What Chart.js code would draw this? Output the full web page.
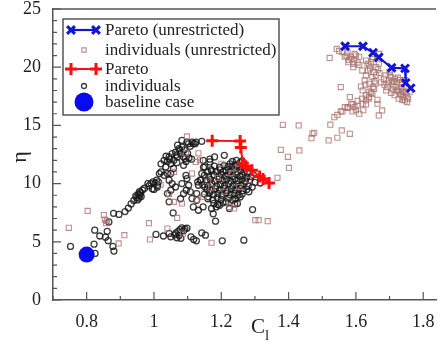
<!DOCTYPE html>
<html>
<head>
<meta charset="utf-8">
<script src="https://cdn.jsdelivr.net/npm/chart.js@4.4.1/dist/chart.umd.min.js"></script>
<style>
  html, body { margin: 0; padding: 0; background: #fff; overflow: hidden; }
  canvas { display: block; }
</style>
</head>
<body>
<canvas id="chart" width="445" height="347"></canvas>
<script>
// Axis ticks
const xTicks = [0.8, 1.0, 1.2, 1.4, 1.6, 1.8];
const xMinorTicks = [0.7, 0.9, 1.1, 1.3, 1.5, 1.7];
const yTicks = [0, 5, 10, 15, 20, 25];
const yMinorTicks = [1, 2, 3, 4, 6, 7, 8, 9, 11, 12, 13, 14, 16, 17, 18, 19, 21, 22, 23, 24];

// Pareto front, unrestricted run (C_l, eta)
const paretoUnrestrictedC = [1.568, 1.621, 1.651, 1.668, 1.706, 1.746, 1.748, 1.763];
const paretoUnrestrictedEta = [21.8, 21.8, 21.25, 20.85, 19.95, 19.9, 18.65, 18.2];

// Pareto front, restricted run
const paretoC = [1.173, 1.256, 1.258, 1.264, 1.273, 1.291, 1.314, 1.324, 1.342];
const paretoEta = [13.68, 13.65, 13.1, 11.75, 11.5, 11.15, 10.6, 10.4, 10.05];

// Baseline case
const baselineC = [0.8];
const baselineEta = [3.9];

// Individuals of the unrestricted run [C_l, eta]
const individualsUnrestricted = [
  [0.747,6.2],[0.803,7.65],[0.851,7.3],[0.854,6.9],[0.858,6.6],[0.912,5.57],[0.895,4.86],[0.985,6.6],
  [0.988,5.2],[1.040,6.14],[1.069,7.05],[1.086,5.7],[1.171,4.92],[0.790,4.1],[0.860,6.8],
  [1.098,14.05],[1.132,12.6],[1.137,12.0],[1.113,10.86],[1.124,11.86],[1.059,8.43],[1.083,8.29],
  [1.127,8.6],[1.146,8.86],[1.224,8.0],[1.238,7.86],[1.253,9.71],[1.282,10.3],[1.190,10.5],[1.210,9.3],
  [1.170,9.6],[1.160,10.2],[1.230,10.9],[1.250,11.3],[1.200,11.7],[1.095,12.6],[1.060,11.0],[1.045,9.1],
  [1.020,9.9],
  [1.301,6.86],[1.311,6.86],[1.338,6.77],[1.367,10.5],[1.377,12.9],[1.398,12.3],[1.401,11.35],
  [1.432,12.85],[1.383,15.05],[1.430,15.0],[1.471,14.3],[1.476,14.37],[1.468,13.9],[1.524,15.06],
  [1.519,13.71],[1.545,13.94],[1.558,14.57],[1.582,14.28],[1.536,15.71],[1.555,16.2],[1.567,16.57],
  [1.576,16.57],[1.586,16.86],[1.596,16.57],[1.605,16.71],[1.620,16.86],[1.630,17.14],[1.639,17.43],
  [1.649,17.71],[1.654,18.14],[1.620,18.0],[1.615,18.34],[1.555,18.29],[1.582,17.43],[1.522,20.8],
  [1.543,21.57],[1.572,21.0],[1.587,20.71],[1.596,21.14],[1.577,20.43],[1.592,20.29],[1.619,19.71],
  [1.626,18.86],[1.630,19.29],[1.636,19.71],[1.640,20.14],[1.645,20.43],[1.650,20.71],[1.630,20.57],
  [1.640,18.57],[1.649,19.14],[1.654,19.57],[1.664,16.86],[1.668,15.86],[1.678,16.29],[1.683,19.0],
  [1.688,19.29],[1.698,18.86],[1.707,18.71],[1.717,19.0],[1.693,18.29],[1.712,18.43],[1.722,18.0],
  [1.732,17.71],[1.741,17.43],[1.727,17.29],[1.746,17.14],[1.722,18.71],[1.736,18.14],[1.702,19.29],
  [1.736,18.57],[1.751,17.57],[1.669,21.14],[1.664,17.2],[1.600,21.0],[1.610,20.9],[1.660,20.0],
  [1.670,19.5],[1.675,18.7],[1.690,18.0],[1.705,17.8],[1.715,17.6],[1.740,17.9],[1.755,17.3],
  [1.760,17.9],[1.700,19.6],[1.725,19.1],[1.745,18.9],[1.560,21.3],[1.600,16.3],[1.610,16.0],
  [1.590,16.2],[1.545,15.9],[1.560,16.2],[1.575,16.5],[1.590,16.8],[1.605,17.1],[1.618,17.3],
  [1.630,17.6],[1.640,17.9],[1.622,16.3],[1.630,16.8],[1.638,17.3],[1.645,17.8],[1.650,18.3],
  [1.655,18.8],[1.660,19.3],[1.665,19.8],[1.668,20.3],[1.550,21.4],[1.575,21.2],[1.585,20.9],
  [1.595,20.6],[1.605,20.4],[1.592,20.0],[1.610,20.2],
  [1.695,18.6],[1.710,18.1],[1.718,18.3],[1.728,17.9],[1.735,17.6],[1.748,17.8],[1.742,18.3],
  [1.705,19.1],[1.713,18.8],[1.730,18.9],[1.685,18.5],[1.752,17.0],[1.738,17.2],[1.733,18.3],
  [1.642,19.9],[1.648,20.9],[1.635,20.3],[1.628,18.5],[1.658,18.6],[1.580,20.6],[1.567,20.9]
];

// Individuals of the restricted run [C_l, eta]
const individuals = [
  [0.752,4.6],[0.824,6.0],[0.839,5.5],[0.822,4.8],[0.825,4.0],[0.856,5.4],[0.861,5.9],[0.866,6.7],
  [0.864,5.1],[0.878,4.6],[0.881,4.2],[0.880,7.45],[0.896,7.35],[0.914,7.6],[0.924,7.9],[0.932,8.25],
  [0.940,8.55],[0.948,8.8],[0.953,9.1],[0.957,9.3],[0.951,8.6],[0.946,8.95],[0.962,8.9],[0.966,9.45],
  [0.972,9.6],[0.985,9.8],[0.991,10.0],[1.004,10.05],[1.013,10.15],[1.000,9.5],[1.010,9.7],[0.995,9.55],
  [1.008,10.3],[0.958,9.0],[0.955,8.75],[0.960,9.2],[0.982,10.0],[0.997,10.14],[1.011,9.86],
  [1.006,5.63],[1.028,5.5],[1.045,5.72],[1.050,5.43],[1.062,5.6],[1.071,5.88],[1.077,6.05],[1.083,6.2],
  [1.092,6.1],[1.098,6.17],[1.075,5.55],[1.068,5.35],[1.080,5.3],[1.110,5.43],[1.118,5.2],[1.126,5.08],
  [1.142,5.76],[1.153,5.57],[1.203,5.08],[1.267,5.14],[1.088,5.95],[1.065,5.75],
  [1.293,7.77],[1.183,6.77],[1.176,7.4],[1.057,7.48],[1.045,8.43],[1.040,9.14],[1.079,8.7],[1.088,9.14],
  [1.096,9.43],[1.103,9.86],[1.108,9.29],[1.113,8.71],[1.127,9.14],[1.132,9.86],[1.137,10.29],
  [1.142,10.86],[1.151,11.43],[1.146,12.0],[1.166,11.86],[1.209,12.43],[1.180,12.29],[1.151,9.71],
  [1.161,8.86],[1.127,8.57],[1.132,7.71],[1.146,8.0],[1.117,8.0],[1.185,8.0],[1.195,8.14],[1.171,7.86],
  [1.214,8.43],[1.234,8.57],[1.248,8.29],[1.224,7.86],[1.098,10.43],[1.054,10.0],[1.050,9.43],
  [1.064,9.71],[1.045,10.29],[1.166,12.1],[1.147,11.4],[1.095,10.7],[1.083,10.0],[1.130,10.14],
  [1.021,11.7],[1.030,12.0],[1.035,11.43],[1.045,12.29],[1.050,11.71],[1.054,12.57],[1.059,12.0],
  [1.064,12.71],[1.069,12.29],[1.074,13.0],[1.079,12.57],[1.083,13.14],[1.088,12.29],[1.093,12.14],
  [1.098,13.57],[1.103,13.43],[1.113,13.57],[1.122,13.43],[1.142,13.63],[1.083,13.71],[1.077,12.86],
  [1.088,11.57],[1.021,11.0],[1.016,10.86],[1.030,10.71],[1.040,10.86],[1.050,10.86],[1.040,11.9],
  [1.058,11.3],[1.068,11.8],[1.095,11.9],[1.100,12.6],[1.104,12.2],[1.090,12.9],[1.066,12.45],
  [1.047,12.1],[1.036,12.35],[1.108,13.2],[1.070,13.3],[1.112,12.1],[1.125,13.57],[1.117,13.43],
  [1.233,11.9],[1.245,12.0],[1.255,11.8],[1.226,11.7],[1.262,11.95],
  [1.180,11.5],[1.195,11.4],[1.208,11.55],[1.220,11.45],[1.232,11.5],[1.243,11.6],[1.252,11.4],
  [1.262,11.5],[1.270,11.3],[1.170,11.2],
  [1.160,11.0],[1.172,11.1],[1.185,11.05],[1.197,11.2],[1.205,11.0],[1.214,11.15],[1.226,11.05],
  [1.238,11.2],[1.248,11.0],[1.258,11.15],[1.268,11.0],[1.278,10.9],
  [1.150,10.7],[1.163,10.6],[1.178,10.75],[1.190,10.6],[1.200,10.8],[1.212,10.65],[1.222,10.75],
  [1.233,10.6],[1.244,10.8],[1.255,10.6],[1.264,10.7],[1.276,10.55],[1.288,10.6],
  [1.140,10.3],[1.156,10.25],[1.168,10.35],[1.181,10.2],[1.193,10.4],[1.204,10.25],[1.216,10.35],
  [1.228,10.2],[1.240,10.4],[1.250,10.25],[1.262,10.35],[1.272,10.2],[1.285,10.3],[1.300,10.1],
  [1.316,10.05],
  [1.145,9.9],[1.160,9.85],[1.172,10.0],[1.186,9.8],[1.198,9.95],[1.210,9.85],[1.222,10.0],[1.235,9.8],
  [1.246,9.95],[1.258,9.85],[1.268,10.0],[1.280,9.8],[1.292,9.7],
  [1.158,9.5],[1.170,9.4],[1.183,9.55],[1.195,9.45],[1.207,9.6],[1.218,9.4],[1.230,9.55],[1.241,9.45],
  [1.253,9.6],[1.264,9.4],[1.276,9.5],[1.282,9.3],
  [1.150,9.1],[1.165,9.2],[1.177,9.05],[1.190,9.15],[1.202,9.0],[1.214,9.2],[1.226,9.05],[1.238,9.15],
  [1.250,9.0],[1.262,9.1],
  [1.160,8.7],[1.175,8.6],[1.188,8.8],[1.200,8.65],[1.222,8.75],[1.243,8.7],[1.256,8.85],
  [1.178,8.3],[1.205,8.35],[1.190,8.2],[1.240,8.25]
];

const toPoints = (xs, ys) => xs.map((x, i) => ({ x: x, y: ys[i] }));
const pairPoints = pairs => pairs.map(p => ({ x: p[0], y: p[1] }));

const serif = '"Liberation Serif", "Times New Roman", serif';

const datasets = [
  {
    label: 'Pareto (unrestricted)',
    data: toPoints(paretoUnrestrictedC, paretoUnrestrictedEta),
    showLine: true,
    borderColor: 'rgb(20,20,215)',
    backgroundColor: 'rgb(20,20,215)',
    borderWidth: 2.2,
    pointStyle: 'crossRot',
    pointRadius: 5.5,
    pointBorderWidth: 3,
    order: 1
  },
  {
    label: 'individuals (unrestricted)',
    data: pairPoints(individualsUnrestricted),
    showLine: false,
    borderColor: 'rgba(170,118,112,0.8)',
    backgroundColor: 'rgba(0,0,0,0)',
    pointStyle: 'rect',
    pointRadius: 3.6,
    pointBorderWidth: 1.1,
    order: 4
  },
  {
    label: 'Pareto',
    data: toPoints(paretoC, paretoEta),
    showLine: true,
    borderColor: 'rgb(250,15,15)',
    backgroundColor: 'rgb(250,15,15)',
    borderWidth: 2,
    pointStyle: 'cross',
    pointRadius: 6,
    pointBorderWidth: 3,
    order: 2
  },
  {
    label: 'individuals',
    data: pairPoints(individuals),
    showLine: false,
    borderColor: 'rgba(25,25,25,0.85)',
    backgroundColor: 'rgba(0,0,0,0)',
    pointStyle: 'circle',
    pointRadius: 3,
    pointBorderWidth: 1.3,
    order: 5
  },
  {
    label: 'baseline case',
    data: toPoints(baselineC, baselineEta),
    showLine: false,
    borderColor: 'rgb(10,10,240)',
    backgroundColor: 'rgb(10,10,240)',
    pointStyle: 'circle',
    pointRadius: 8,
    pointBorderWidth: 0,
    order: 0
  }
];

// Frame, inward tick marks, axis titles and the boxed legend
const decorations = {
  id: 'decorations',
  afterDatasetsDraw(chart) {
    const { ctx, chartArea: a, scales: { x, y } } = chart;
    ctx.save();
    ctx.strokeStyle = '#555';
    ctx.lineWidth = 1.5;
    ctx.beginPath();
    ctx.moveTo(a.left, a.top);
    ctx.lineTo(a.right, a.top);
    ctx.stroke();

    ctx.lineWidth = 1.2;
    ctx.beginPath();
    xTicks.forEach(v => { const p = x.getPixelForValue(v); ctx.moveTo(p, a.bottom); ctx.lineTo(p, a.bottom - 8); });
    xMinorTicks.forEach(v => { const p = x.getPixelForValue(v); ctx.moveTo(p, a.bottom); ctx.lineTo(p, a.bottom - 4); });
    yTicks.forEach(v => { const p = y.getPixelForValue(v); ctx.moveTo(a.left, p); ctx.lineTo(a.left + 8, p); });
    yMinorTicks.forEach(v => { const p = y.getPixelForValue(v); ctx.moveTo(a.left, p); ctx.lineTo(a.left + 4, p); });
    ctx.stroke();

    // axis titles
    ctx.fillStyle = '#222';
    ctx.textAlign = 'center';
    ctx.textBaseline = 'middle';
    ctx.save();
    ctx.translate(20, 157);
    ctx.rotate(-Math.PI / 2);
    ctx.font = '22px ' + serif;
    ctx.fillText('η', 0, 0);
    ctx.restore();
    ctx.textBaseline = 'alphabetic';
    ctx.textAlign = 'left';
    ctx.font = '21px ' + serif;
    ctx.fillText('C', 251, 333);
    ctx.font = '15px ' + serif;
    ctx.fillText('l', 265, 340);

    // legend
    const box = { left: 63, top: 19, right: 279, bottom: 115 };
    ctx.fillStyle = '#fff';
    ctx.fillRect(box.left, box.top, box.right - box.left, box.bottom - box.top);
    ctx.strokeStyle = '#555';
    ctx.lineWidth = 1.5;
    ctx.strokeRect(box.left, box.top, box.right - box.left, box.bottom - box.top);
    const rows = [30, 50, 69, 86, 102];
    chart.data.datasets.forEach((ds, i) => {
      const yy = rows[i];
      ctx.strokeStyle = ds.borderColor;
      ctx.fillStyle = ds.backgroundColor;
      if (ds.showLine) {
        ctx.lineWidth = ds.borderWidth;
        ctx.beginPath();
        ctx.moveTo(71, yy);
        ctx.lineTo(96, yy);
        ctx.stroke();
        ctx.lineWidth = ds.pointBorderWidth;
        Chart.helpers.drawPoint(ctx, { pointStyle: ds.pointStyle, radius: ds.pointRadius, rotation: 0, borderWidth: ds.pointBorderWidth }, 71, yy);
        Chart.helpers.drawPoint(ctx, { pointStyle: ds.pointStyle, radius: ds.pointRadius, rotation: 0, borderWidth: ds.pointBorderWidth }, 96, yy);
      } else {
        const r = ds.pointRadius >= 8 ? 9.5 : (ds.pointStyle === 'rect' ? 3 : 2.5);
        ctx.lineWidth = ds.pointBorderWidth || 1;
        Chart.helpers.drawPoint(ctx, { pointStyle: ds.pointStyle, radius: r, rotation: 0, borderWidth: ds.pointBorderWidth }, 84, yy);
      }
      ctx.fillStyle = '#222';
      ctx.font = '17px ' + serif;
      ctx.textAlign = 'left';
      ctx.textBaseline = 'middle';
      ctx.fillText(ds.label, 105, yy + 1);
    });
    ctx.restore();
  }
};

new Chart(document.getElementById('chart'), {
  type: 'scatter',
  data: { datasets: datasets },
  options: {
    responsive: false,
    animation: false,
    layout: { padding: { top: 8, right: 0, bottom: 0, left: 0 } },
    plugins: { legend: { display: false }, tooltip: { enabled: false } },
    scales: {
      x: {
        type: 'linear',
        min: 0.7,
        max: 1.838,
        afterBuildTicks: s => { s.ticks = xTicks.map(v => ({ value: v })); },
        afterFit: s => { s.height = 47; s.paddingLeft = 0; s.paddingRight = 0; },
        grid: { display: false },
        border: { display: true, color: '#555', width: 1.5 },
        ticks: {
          padding: 3,
          color: '#222',
          font: { family: serif, size: 18 },
          maxRotation: 0,
          callback: v => String(+Number(v).toFixed(2))
        }
      },
      y: {
        type: 'linear',
        min: 0,
        max: 25,
        afterBuildTicks: s => { s.ticks = yTicks.map(v => ({ value: v })); },
        afterFit: s => { s.width = 53; s.paddingTop = 0; s.paddingBottom = 0; },
        grid: { display: false },
        border: { display: true, color: '#555', width: 1.5 },
        ticks: {
          padding: 4,
          color: '#222',
          font: { family: serif, size: 18 },
          callback: v => String(v)
        }
      }
    }
  },
  plugins: [decorations]
});
</script>
</body>
</html>
